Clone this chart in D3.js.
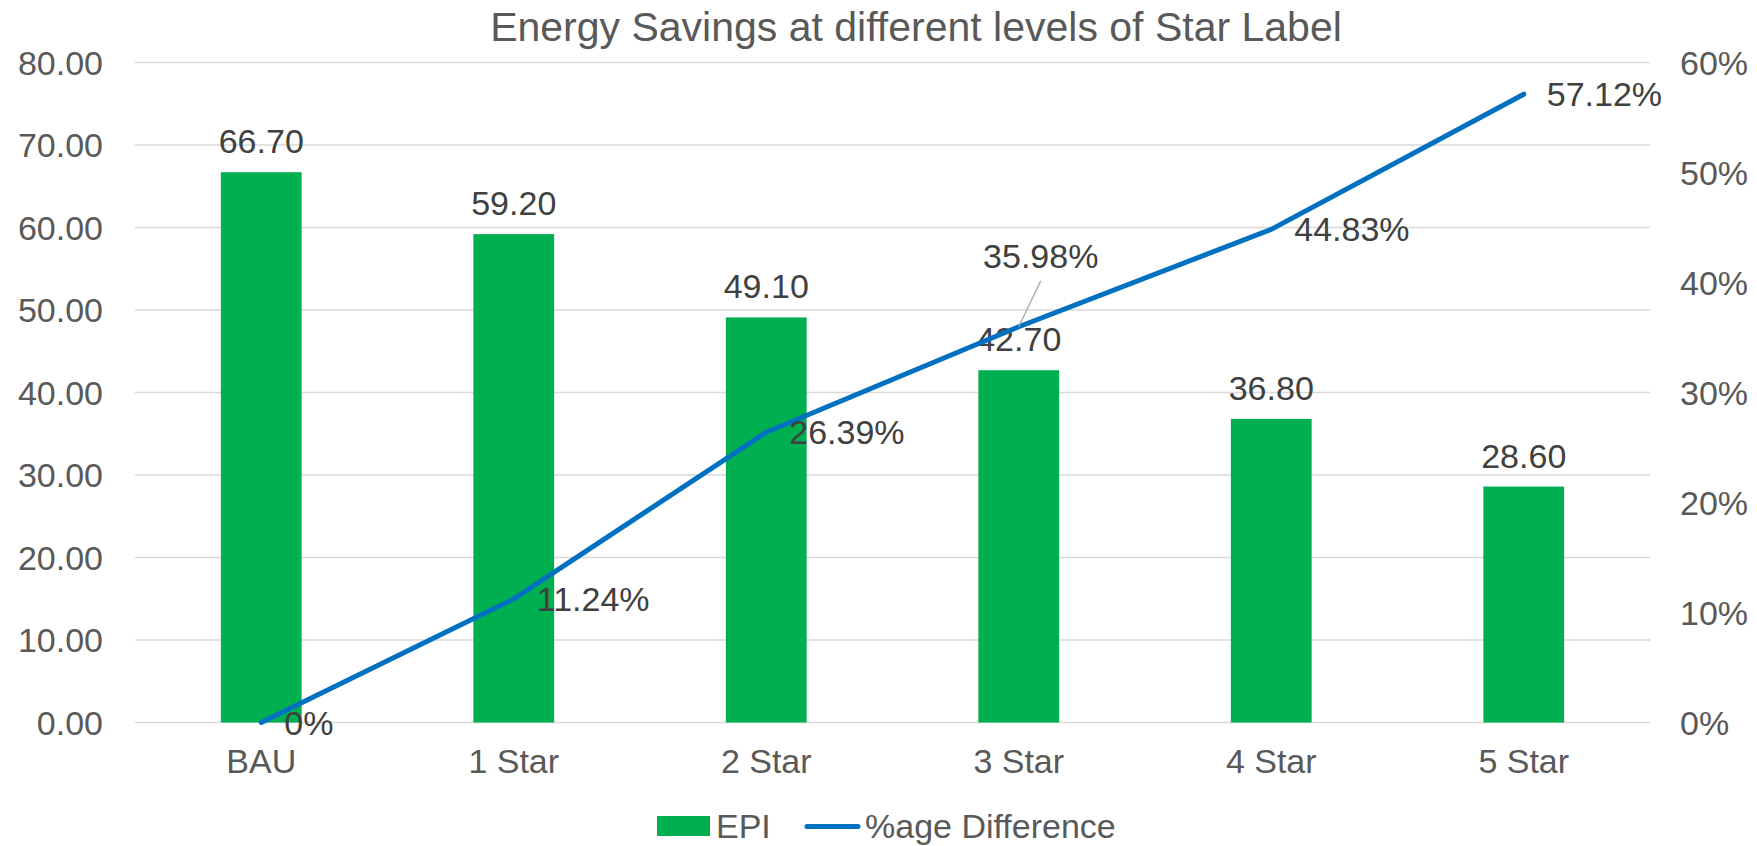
<!DOCTYPE html>
<html>
<head>
<meta charset="utf-8">
<script src="https://cdn.jsdelivr.net/npm/d3@7"></script>
<style>
  html, body { margin: 0; padding: 0; background: #ffffff; }
  svg { display: block; font-family: "Liberation Sans", Arial, sans-serif; }
</style>
</head>
<body>
<svg id="chart" width="1757" height="846"></svg>
<script>
// Star-label categories and the two series plotted against them
const categories = ["BAU", "1 Star", "2 Star", "3 Star", "4 Star", "5 Star"];
const epiValues = [66.70, 59.20, 49.10, 42.70, 36.80, 28.60];
const pctDifference = [0, 0.1124, 0.2639, 0.3598, 0.4483, 0.5712];
const leftTicks = [0, 10, 20, 30, 40, 50, 60, 70, 80];
const rightTicks = [0, 0.1, 0.2, 0.3, 0.4, 0.5, 0.6];
const titleText = "Energy Savings at different levels of Star Label";
const seriesNames = ["EPI", "%age Difference"];

// Layout and styling
const plot = { left: 135, right: 1650, top: 62.5, bottom: 722.5 };
const COLORS = { bar: "#00B050", line: "#0070C0", grid: "#D9D9D9", axis: "#595959", label: "#404040", leader: "#A6A6A6" };
const FONT = 34;

const svg = d3.select("#chart");

const x = d3.scaleBand()
  .domain(categories)
  .range([plot.left, plot.right])
  .paddingInner(0.68)
  .paddingOuter(0.34);

const yLeft = d3.scaleLinear().domain([0, 80]).range([plot.bottom, plot.top]);
const yRight = d3.scaleLinear().domain([0, 0.6]).range([plot.bottom, plot.top]);

// Horizontal gridlines
svg.append("g")
  .selectAll("line")
  .data(leftTicks)
  .join("line")
  .attr("x1", plot.left)
  .attr("x2", plot.right)
  .attr("y1", d => yLeft(d))
  .attr("y2", d => yLeft(d))
  .attr("stroke", COLORS.grid)
  .attr("stroke-width", 1.5);

// Title
svg.append("text")
  .attr("x", 916)
  .attr("y", 41)
  .attr("text-anchor", "middle")
  .attr("fill", COLORS.axis)
  .style("font-size", "41px")
  .text(titleText);

// Left axis
const leftAxis = svg.append("g")
  .attr("transform", `translate(${plot.left},0)`)
  .call(d3.axisLeft(yLeft).tickValues(leftTicks).tickFormat(d3.format(".2f")).tickSize(0).tickPadding(32));

// Right axis
const rightAxis = svg.append("g")
  .attr("transform", `translate(${plot.right},0)`)
  .call(d3.axisRight(yRight).tickValues(rightTicks).tickFormat(d3.format(".0%")).tickSize(0).tickPadding(30));

// Bottom axis
const bottomAxis = svg.append("g")
  .attr("transform", `translate(0,${plot.bottom})`)
  .call(d3.axisBottom(x).tickSize(0).tickPadding(26));

[leftAxis, rightAxis, bottomAxis].forEach(g => {
  g.select(".domain").remove();
  g.selectAll("text")
    .attr("fill", COLORS.axis)
    .style("font-size", FONT + "px")
    .style("font-family", "'Liberation Sans', Arial, sans-serif");
});
leftAxis.selectAll("text").attr("dy", "0.35em");
rightAxis.selectAll("text").attr("dy", "0.35em");

// EPI bars
svg.append("g")
  .selectAll("rect")
  .data(epiValues)
  .join("rect")
  .attr("x", (d, i) => x(categories[i]))
  .attr("width", x.bandwidth())
  .attr("y", d => yLeft(d))
  .attr("height", d => yLeft(0) - yLeft(d))
  .attr("fill", COLORS.bar);

// Bar value labels
svg.append("g")
  .selectAll("text")
  .data(epiValues)
  .join("text")
  .attr("x", (d, i) => x(categories[i]) + x.bandwidth() / 2)
  .attr("y", d => yLeft(d) - 19)
  .attr("text-anchor", "middle")
  .attr("fill", COLORS.label)
  .style("font-size", FONT + "px")
  .text(d => d3.format(".2f")(d));

// %age Difference line
const cx = i => x(categories[i]) + x.bandwidth() / 2;
const line = d3.line()
  .x((d, i) => cx(i))
  .y(d => yRight(d));

svg.append("path")
  .datum(pctDifference)
  .attr("d", line)
  .attr("fill", "none")
  .attr("stroke", COLORS.line)
  .attr("stroke-width", 5)
  .attr("stroke-linecap", "round")
  .attr("stroke-linejoin", "round");

// Line value labels: right of each point, one lifted above with a leader line
const pctFormat = d => d === 0 ? "0%" : d3.format(".2%")(d);
const lifted = { index: 3, dx: 22, dy: -58.5, leaderDy: -46 };

const lineLabels = svg.append("g");
pctDifference.forEach((d, i) => {
  const px = cx(i), py = yRight(d);
  if (i === lifted.index) {
    lineLabels.append("line")
      .attr("x1", px + lifted.dx)
      .attr("y1", py + lifted.leaderDy)
      .attr("x2", px)
      .attr("y2", py)
      .attr("stroke", COLORS.leader)
      .attr("stroke-width", 1.3);
    lineLabels.append("text")
      .attr("x", px + lifted.dx)
      .attr("y", py + lifted.dy)
      .attr("text-anchor", "middle")
      .attr("fill", COLORS.label)
      .style("font-size", FONT + "px")
      .text(pctFormat(d));
  } else {
    lineLabels.append("text")
      .attr("x", px + 23)
      .attr("y", py + 12)
      .attr("text-anchor", "start")
      .attr("fill", COLORS.label)
      .style("font-size", FONT + "px")
      .text(pctFormat(d));
  }
});

// Legend
const legend = svg.append("g");
legend.append("rect")
  .attr("x", 657).attr("y", 816).attr("width", 53).attr("height", 20)
  .attr("fill", COLORS.bar);
legend.append("text")
  .attr("x", 716).attr("y", 838)
  .attr("fill", COLORS.axis)
  .style("font-size", FONT + "px")
  .text(seriesNames[0]);
legend.append("line")
  .attr("x1", 807).attr("x2", 858).attr("y1", 826.5).attr("y2", 826.5)
  .attr("stroke", COLORS.line).attr("stroke-width", 5).attr("stroke-linecap", "round");
legend.append("text")
  .attr("x", 865).attr("y", 838)
  .attr("fill", COLORS.axis)
  .style("font-size", FONT + "px")
  .text(seriesNames[1]);
</script>
</body>
</html>
